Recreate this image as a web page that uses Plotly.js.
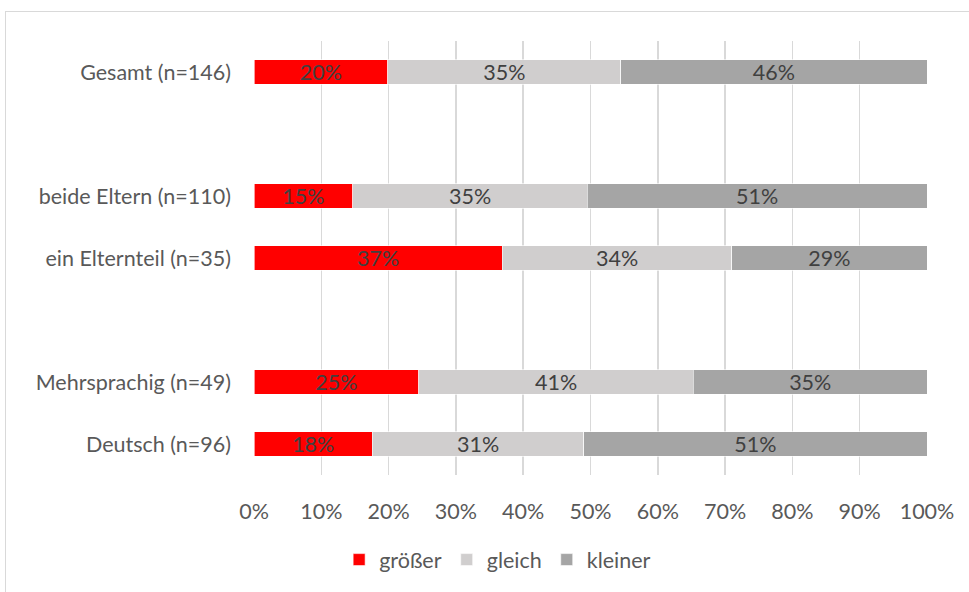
<!DOCTYPE html>
<html>
<head>
<meta charset="utf-8">
<script src="https://cdn.plot.ly/plotly-3.0.1.min.js"></script>
<style>
  html, body { margin: 0; padding: 0; background: #fff; }
  #chart { width: 969px; height: 592px; }
  #frame { position: absolute; left: 5px; top: 11px; width: 980px; height: 600px;
           border: 1px solid #d9d9d9; pointer-events: none; }
</style>
</head>
<body>
<div id="chart"></div>
<div id="frame"></div>
<script>
// Groups, top to bottom (spacer rows separate the blocks)
const categories = ["Gesamt (n=146)", "beide Eltern (n=110)", "ein Elternteil (n=35)", "Mehrsprachig (n=49)", "Deutsch (n=96)"];
const categoryOrder = ["Gesamt (n=146)", " ", "beide Eltern (n=110)", "ein Elternteil (n=35)", "  ", "Mehrsprachig (n=49)", "Deutsch (n=96)"];

// Shares in percent
const groesser = [19.9, 14.7, 36.9, 24.5, 17.6];
const gleich   = [34.6, 34.8, 34.1, 40.8, 31.4];
const kleiner  = [45.5, 50.5, 29.0, 34.7, 51.0];

const xTickVals = [0, 10, 20, 30, 40, 50, 60, 70, 80, 90, 100];
const xTickText = ["0%", "10%", "20%", "30%", "40%", "50%", "60%", "70%", "80%", "90%", "100%"];

const FONT = "Lato, 'Open Sans', sans-serif";
const FS = 21.5;

function series(name, values, color) {
  return {
    type: "bar",
    orientation: "h",
    name: name,
    x: values,
    y: categories,
    marker: { color: color, line: { color: "#ffffff", width: 0.6 } },
    texttemplate: "%{x:.0f}%",
    textposition: "inside",
    insidetextanchor: "middle",
    constraintext: "none",
    textfont: { family: FONT, size: FS, color: "#404040" },
    hoverinfo: "skip"
  };
}

const data = [
  series("größer", groesser, "#ff0000"),
  series("gleich", gleich, "#d0cece"),
  series("kleiner", kleiner, "#a5a5a5")
];

const layout = {
  width: 969,
  height: 592,
  barmode: "stack",
  bargap: 0.6,
  paper_bgcolor: "#ffffff",
  plot_bgcolor: "#ffffff",
  margin: { l: 254, r: 42, t: 41, b: 115, pad: 0 },
  font: { family: FONT, size: FS, color: "#595959" },
  xaxis: {
    range: [0, 100],
    tickvals: xTickVals,
    ticktext: xTickText,
    showgrid: true,
    gridcolor: "#d9d9d9",
    gridwidth: 1.5,
    zeroline: false,
    showline: false,
    ticks: "",
    ticklabelstandoff: 21,
    tickfont: { family: FONT, size: FS, color: "#595959" },
    fixedrange: true
  },
  yaxis: {
    type: "category",
    categoryorder: "array",
    categoryarray: categoryOrder.slice().reverse(),
    range: [-0.5, 6.5],
    showgrid: false,
    zeroline: false,
    showline: false,
    ticks: "",
    ticklabelstandoff: 22,
    tickfont: { family: FONT, size: FS, color: "#595959" },
    fixedrange: true
  },
  showlegend: true,
  legend: {
    orientation: "h",
    x: 0.362,
    xanchor: "center",
    y: -0.195,
    yanchor: "middle",
    font: { family: FONT, size: FS, color: "#595959" },
    itemwidth: 30,
    traceorder: "normal"
  }
};

Plotly.newPlot("chart", data, layout, { displayModeBar: false, staticPlot: true });
</script>
</body>
</html>
